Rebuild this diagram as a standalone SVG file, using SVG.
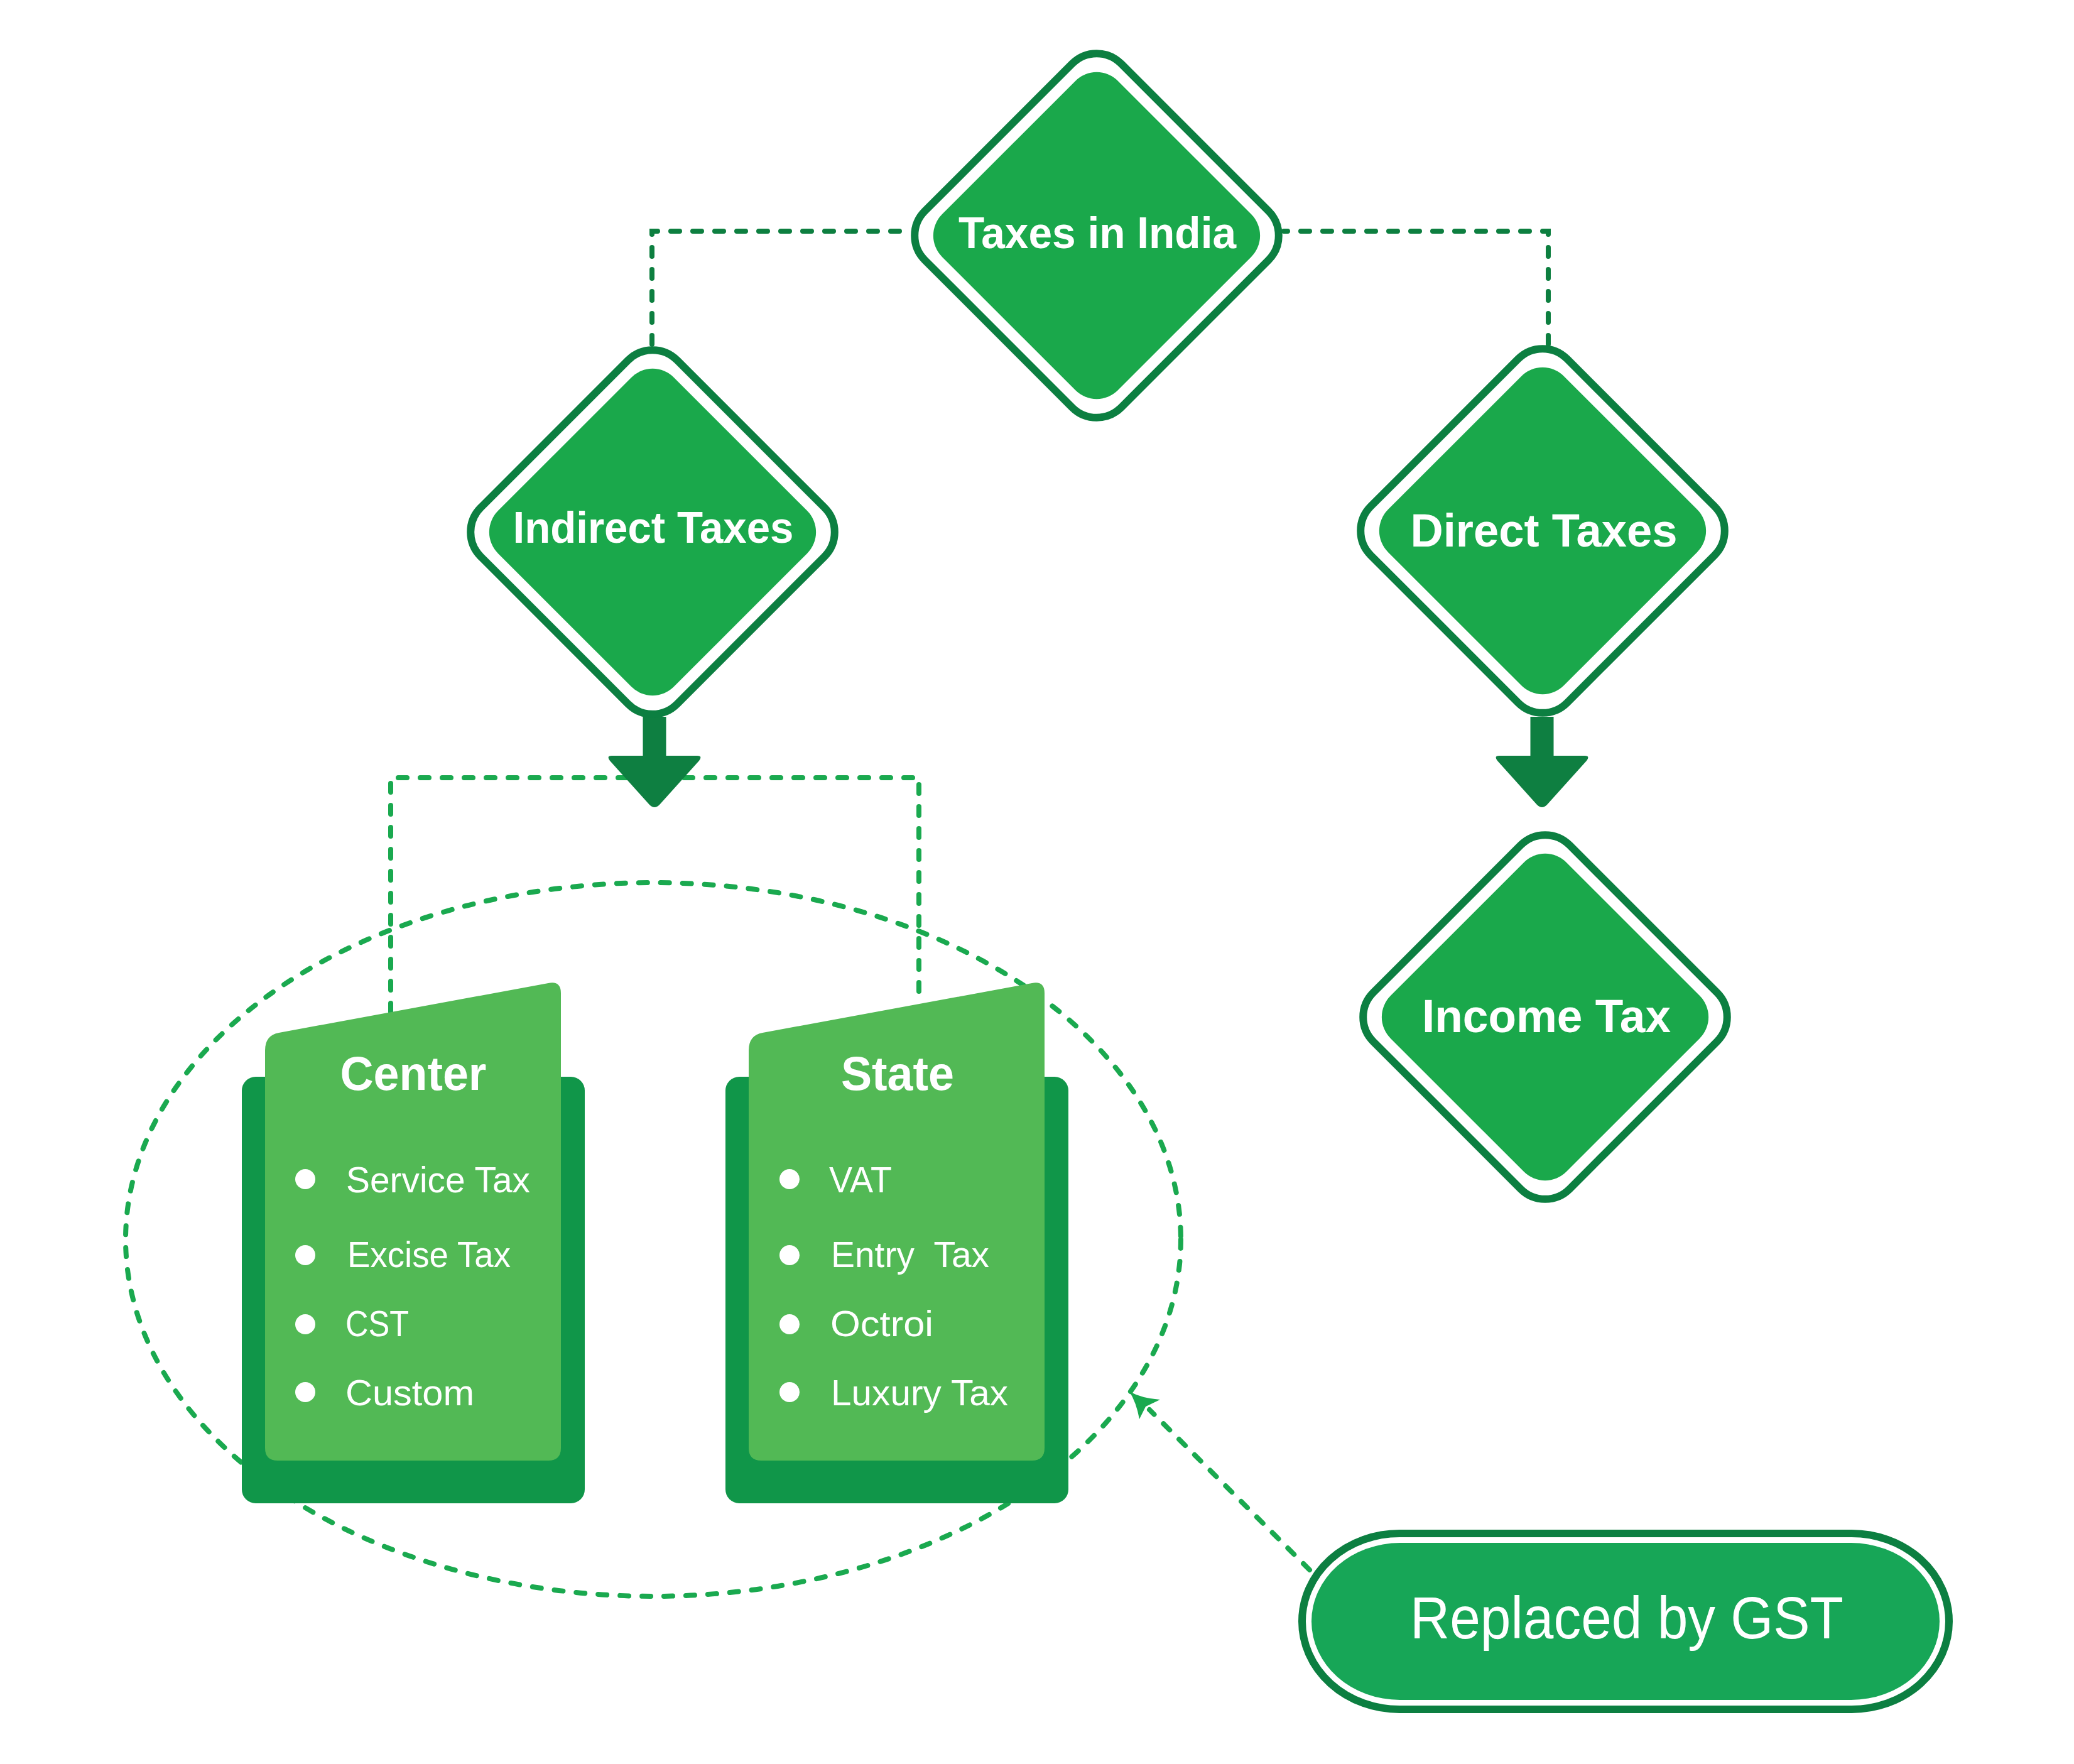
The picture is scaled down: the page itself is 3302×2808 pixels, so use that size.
<svg xmlns="http://www.w3.org/2000/svg" width="3302" height="2808" viewBox="0 0 3302 2808">
<style>
.ring{fill:#ffffff;stroke:#0c7f41;stroke-width:12}
.dfill{fill:#1aa84b}
.lbl{font-family:"Liberation Sans",Arial,sans-serif;font-weight:bold;fill:#ffffff;text-anchor:middle}
.item{font-family:"Liberation Sans",Arial,sans-serif;fill:#ffffff;font-size:58px}
.dash{fill:none;stroke-width:8;stroke-linecap:round;stroke-dasharray:14 21}
.dark{stroke:#0d7f40}
.bright{stroke:#1aa94f}
.arrow{fill:#0e7f41}
.light{fill:#52b955}
.back{fill:#109649}
.bullet{fill:#ffffff}
.pillring{fill:#ffffff;stroke:#0c7f41;stroke-width:12}
.pillfill{fill:#17a657}
.head{fill:#1aa94f}
</style>
<defs>
<rect id="dr" x="-221" y="-221" width="442" height="442" rx="55" transform="rotate(45)"/>
<rect id="df" x="-198" y="-198" width="396" height="396" rx="48" transform="rotate(45)"/>
<g id="arr"><rect x="-18.5" y="-62" width="37" height="66"/><path d="M -68,0 L 68,0 Q 77,0 71,8 L 8,78 Q 0,86 -8,78 L -71,8 Q -77,0 -68,0 Z"/></g>
</defs>
<rect width="3302" height="2808" fill="#ffffff"/>

<g id="connectors">
<path class="dash dark" d="M 1038,548 V 368 H 1448"/>
<path class="dash dark" d="M 2465,548 V 368 H 2044"/>
<ellipse class="dash bright" cx="1040" cy="1973" rx="840" ry="568"/>
<path class="dash bright" d="M 622,1611 V 1238 H 1463 V 1599"/>
<path class="dash bright" d="M 2085,2499 L 1830,2244"/>
<path class="head" d="M 1798,2215 Q 1818,2226 1847,2228 L 1824,2239 L 1814,2259 Q 1809,2232 1798,2215 Z"/>
<use href="#arr" class="arrow" transform="translate(1042,1203)"/>
<use href="#arr" class="arrow" transform="translate(2455,1203)"/>
</g>

<g id="node-center">
<rect class="back" x="385" y="1714" width="546" height="679" rx="22"/>
<path class="light" d="M 422,1672 Q 422,1648 444,1644 L 873,1565 Q 893,1561 893,1581 L 893,2305 Q 893,2325 873,2325 L 442,2325 Q 422,2325 422,2305 Z"/>
<text class="lbl" x="658" y="1735" font-size="76" textLength="233" lengthAdjust="spacingAndGlyphs">Center</text>
<circle class="bullet" cx="486" cy="1877" r="16"/>
<circle class="bullet" cx="486" cy="1998" r="16"/>
<circle class="bullet" cx="486" cy="2108" r="16"/>
<circle class="bullet" cx="486" cy="2216" r="16"/>
<text class="item" x="551" y="1898" textLength="293" lengthAdjust="spacingAndGlyphs">Service Tax</text>
<text class="item" x="553" y="2017" textLength="260" lengthAdjust="spacingAndGlyphs">Excise Tax</text>
<text class="item" x="550" y="2127" textLength="101" lengthAdjust="spacingAndGlyphs">CST</text>
<text class="item" x="550" y="2237" textLength="205" lengthAdjust="spacingAndGlyphs">Custom</text>
</g>

<g id="node-state">
<rect class="back" x="1155" y="1714" width="546" height="679" rx="22"/>
<path class="light" d="M 1192,1672 Q 1192,1648 1214,1644 L 1643,1565 Q 1663,1561 1663,1581 L 1663,2305 Q 1663,2325 1643,2325 L 1212,2325 Q 1192,2325 1192,2305 Z"/>
<text class="lbl" x="1429" y="1735" font-size="76" textLength="180" lengthAdjust="spacingAndGlyphs">State</text>
<circle class="bullet" cx="1257" cy="1877" r="16"/>
<circle class="bullet" cx="1257" cy="1998" r="16"/>
<circle class="bullet" cx="1257" cy="2108" r="16"/>
<circle class="bullet" cx="1257" cy="2216" r="16"/>
<text class="item" x="1320" y="1898" textLength="100" lengthAdjust="spacingAndGlyphs">VAT</text>
<text class="item" x="1323" y="2017" textLength="252" lengthAdjust="spacingAndGlyphs" xml:space="preserve">Entry  Tax</text>
<text class="item" x="1322" y="2127" textLength="164" lengthAdjust="spacingAndGlyphs">Octroi</text>
<text class="item" x="1323" y="2237" textLength="282" lengthAdjust="spacingAndGlyphs">Luxury Tax</text>
</g>

<g id="node-taxes-in-india">
<use href="#dr" class="ring" transform="translate(1746,375)"/>
<use href="#df" class="dfill" transform="translate(1746,375)"/>
<text class="lbl" x="1747" y="395" font-size="70" textLength="442" lengthAdjust="spacingAndGlyphs">Taxes in India</text>
</g>

<g id="node-indirect">
<use href="#dr" class="ring" transform="translate(1039,847)"/>
<use href="#df" class="dfill" transform="translate(1039,847)"/>
<text class="lbl" x="1040" y="864" font-size="70" textLength="447" lengthAdjust="spacingAndGlyphs">Indirect Taxes</text>
</g>

<g id="node-direct">
<use href="#dr" class="ring" transform="translate(2456,845)"/>
<use href="#df" class="dfill" transform="translate(2456,845)"/>
<text class="lbl" x="2458" y="870" font-size="74" textLength="425" lengthAdjust="spacingAndGlyphs">Direct Taxes</text>
</g>

<g id="node-income">
<use href="#dr" class="ring" transform="translate(2460,1619)"/>
<use href="#df" class="dfill" transform="translate(2460,1619)"/>
<text class="lbl" x="2462" y="1643" font-size="74" textLength="396" lengthAdjust="spacingAndGlyphs">Income Tax</text>
</g>

<g id="node-gst">
<rect class="pillring" x="2073" y="2441" width="1030" height="280" rx="155" ry="140"/>
<rect class="pillfill" x="2088" y="2456" width="1000" height="250" rx="141" ry="125"/>
<text x="2590" y="2608" font-family="Liberation Sans, Arial, sans-serif" font-size="94" fill="#ffffff" text-anchor="middle" textLength="690" lengthAdjust="spacingAndGlyphs">Replaced by GST</text>
</g>
</svg>
